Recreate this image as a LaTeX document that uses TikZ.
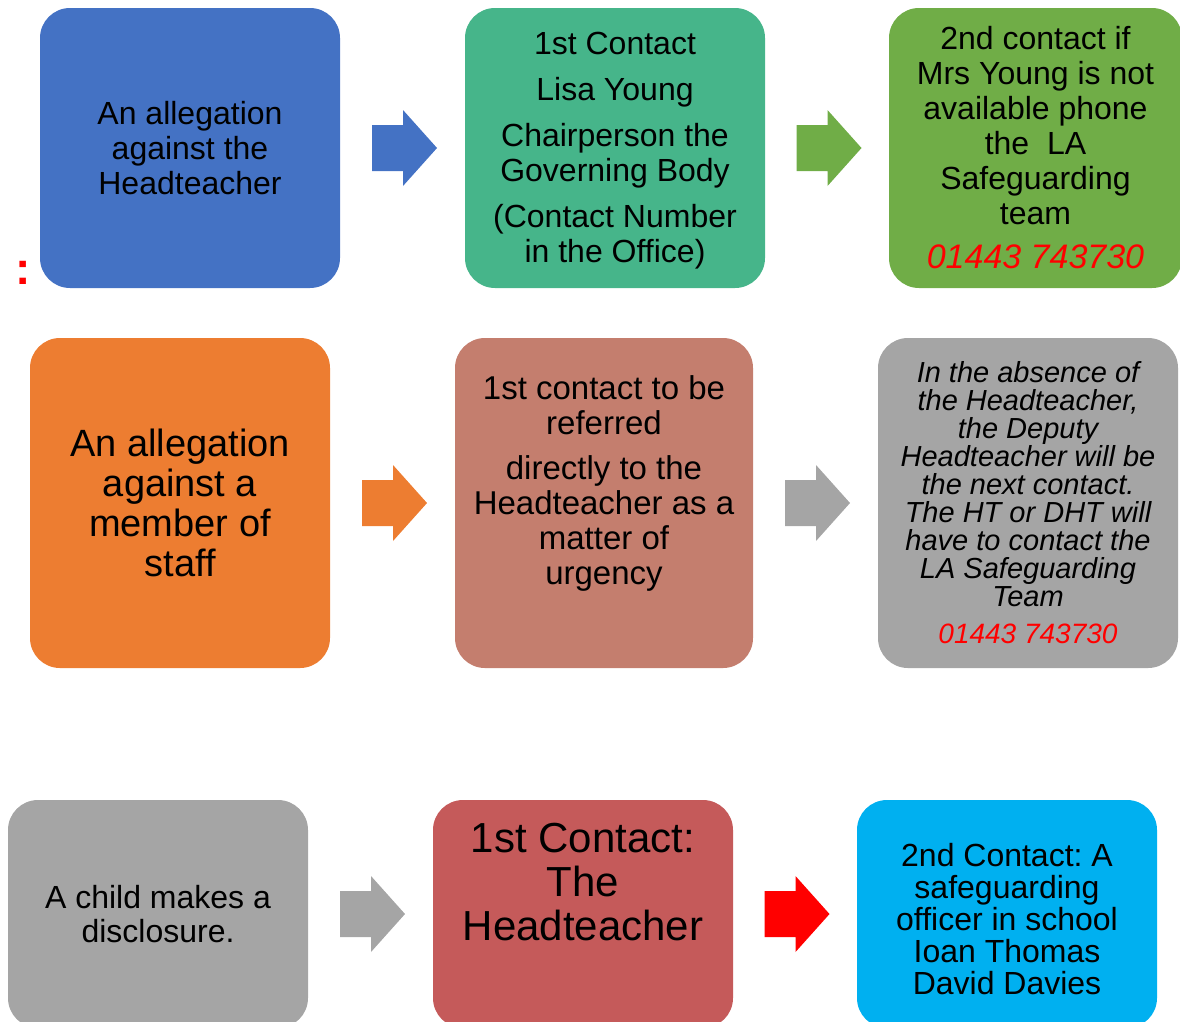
\documentclass[tikz,border=0pt]{standalone}
\usepackage{fontspec}
\setmainfont{Liberation Sans}
\usetikzlibrary{calc}
\frenchspacing

\definecolor{boxBlue}{HTML}{4472C4}
\definecolor{boxTeal}{HTML}{46B58A}
\definecolor{boxGreen}{HTML}{70AD47}
\definecolor{boxOrange}{HTML}{ED7D31}
\definecolor{boxBrown}{HTML}{C47E6E}
\definecolor{boxGrey}{HTML}{A5A5A5}
\definecolor{boxRed}{HTML}{C55A5A}
\definecolor{boxCyan}{HTML}{00B0F0}
\definecolor{phoneRed}{HTML}{FF0000}

\begin{document}
\begin{tikzpicture}[x=1pt,y=-1pt,
    flowbox/.style={
        rectangle,
        rounded corners=30pt,
        minimum width=300pt,
        minimum height=280pt,
        inner sep=0pt
    },
    flowtxt/.style={
        align=center,
        inner sep=0pt,
        font=\fontsize{32}{35}\selectfont
    },
    blockarrow/.pic={
        \fill[pic actions]
        (-32,-23) -- (-1,-23) -- (-1,-38) -- (33,0)
        -- (-1,38) -- (-1,23) -- (-32,23) -- cycle;
    }
]
\useasboundingbox (0,0) rectangle (1180,1021);

% row 1: allegation against the headteacher
\node[flowbox, fill=boxBlue] (htBox) at (190,148) {};
\node[flowbox, fill=boxTeal] (chairBox) at (615,148) {};
\node[flowbox, fill=boxGreen, minimum width=293pt] (laBox) at (1035.5,148) {};

\node[flowtxt] (htText) at (htBox) {An allegation\\against the\\Headteacher};
\node[flowtxt] (chairText) at ([yshift=-3pt]chairBox.center)
{1st Contact\\[11pt]Lisa Young\\[11pt]Chairperson the\\Governing Body\\[11pt](Contact Number\\in the Office)};
\node[flowtxt] (laText) at (laBox)
{2nd contact if\\Mrs Young is not\\available phone\\the\ \ LA\\Safeguarding\\team\\[9pt]
{\color{phoneRed}\itshape\fontsize{34}{35}\selectfont 01443 743730}};

\node[text=phoneRed, font=\bfseries\fontsize{46}{46}\selectfont, inner sep=0pt]
(colon) at (23,273) {:};

% row 2: allegation against staff
\node[flowbox, fill=boxOrange, minimum height=330pt] (staffBox) at (180,503) {};
\node[flowbox, fill=boxBrown, minimum height=330pt, minimum width=298pt] (referBox) at (604,503) {};
\node[flowbox, fill=boxGrey, minimum height=330pt] (deputyBox) at (1028,503) {};

\node[flowtxt, font=\fontsize{38}{40}\selectfont] (staffText) at (staffBox)
{An allegation\\against a\\member of\\staff};
\node[flowtxt, font=\fontsize{33}{35}\selectfont] (referText) at ([yshift=20pt]referBox.center)
{1st contact to be\\referred\\[10pt]directly to the\\Headteacher as a\\matter of\\urgency};
\node[flowtxt, font=\itshape\fontsize{29}{28}\selectfont] (deputyText) at (deputyBox)
{In the absence of\\the Headteacher,\\the Deputy\\Headteacher will be\\the next contact.\\The HT or DHT will\\have to contact the\\LA Safeguarding\\Team\\[9pt]
{\color{phoneRed}\fontsize{28}{28}\selectfont 01443 743730}};

% row 3: disclosure
\node[flowbox, fill=boxGrey, minimum height=228pt] (childBox) at (158,914) {};
\node[flowbox, fill=boxRed, minimum height=228pt] (firstBox) at (583,914) {};
\node[flowbox, fill=boxCyan, minimum height=228pt] (officerBox) at (1007,914) {};

\node[flowtxt, font=\fontsize{32}{34}\selectfont] (childText) at (childBox)
{A child makes a\\disclosure.};
\node[flowtxt, font=\fontsize{42}{44}\selectfont] (firstText) at ([yshift=32pt]firstBox.center)
{1st Contact:\\The\\Headteacher};
\node[flowtxt, font=\fontsize{32}{32}\selectfont] (officerText) at ([yshift=-5pt]officerBox.center)
{2nd Contact: A\\safeguarding\\officer in school\\Ioan Thomas\\David Davies};

% block arrows between the boxes
\coordinate (arrA) at ($(htBox.east)!0.5!(chairBox.west)+(1.5,0)$);
\coordinate (arrB) at ($(chairBox.east)!0.5!(laBox.west)+(1.5,0)$);
\coordinate (arrC) at ($(staffBox.east)!0.5!(referBox.west)+(1.5,0)$);
\coordinate (arrD) at ($(referBox.east)!0.5!(deputyBox.west)+(1.5,0)$);
\coordinate (arrE) at ($(childBox.east)!0.5!(firstBox.west)+(1.5,0)$);
\coordinate (arrF) at ($(firstBox.east)!0.5!(officerBox.west)+(1.5,0)$);

\pic[fill=boxBlue] at (arrA) {blockarrow};
\pic[fill=boxGreen] at (arrB) {blockarrow};
\pic[fill=boxOrange] at (arrC) {blockarrow};
\pic[fill=boxGrey] at (arrD) {blockarrow};
\pic[fill=boxGrey] at (arrE) {blockarrow};
\pic[fill=phoneRed] at (arrF) {blockarrow};
\end{tikzpicture}
\end{document}
